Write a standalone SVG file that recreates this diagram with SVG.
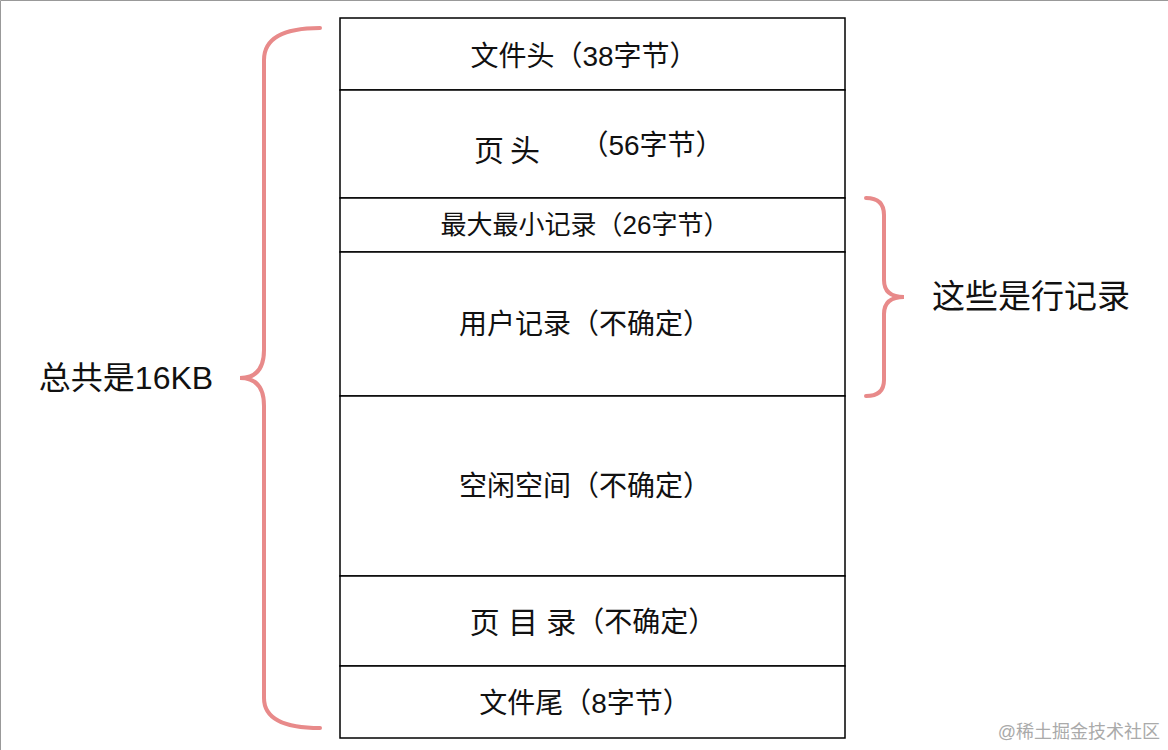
<svg xmlns="http://www.w3.org/2000/svg" width="1168" height="750" viewBox="0 0 1168 750">
<style>
.c{fill:#fff;stroke:#000;stroke-width:1.5}
.t{font-family:"Liberation Sans","Noto Sans CJK SC",sans-serif;font-size:28px;fill:#111;text-anchor:middle;dominant-baseline:central}
.b{fill:none;stroke:#e88a8a;stroke-width:4;stroke-linecap:round}
</style>
<rect x="0" y="0" width="1168" height="750" fill="#fff"/>
<path d="M0.5 750V0.5H1168" fill="none" stroke="#999"/>
<g id="n1"><rect class="c" x="340" y="18" width="505" height="72"/><text class="t" x="584" y="56">文件头（38字节）</text></g>
<g id="n2"><rect class="c" x="340" y="90" width="505" height="108"/><text class="t" x="510" y="150" style="font-size:30px;letter-spacing:6px">页头</text><text class="t" x="652" y="145">（56字节）</text></g>
<g id="n3"><rect class="c" x="340" y="198" width="505" height="54"/><text class="t" x="585" y="225" style="font-size:26px">最大最小记录（26字节）</text></g>
<g id="n4"><rect class="c" x="340" y="252" width="505" height="144"/><text class="t" x="585" y="324">用户记录（不确定）</text></g>
<g id="n5"><rect class="c" x="340" y="396" width="505" height="180"/><text class="t" x="585" y="486">空闲空间（不确定）</text></g>
<g id="n6"><rect class="c" x="340" y="576" width="505" height="90"/><text class="t" x="593" y="622" xml:space="preserve" style="font-size:30px">页 目 录<tspan style="font-size:28px">（不确定）</tspan></text></g>
<g id="n7"><rect class="c" x="340" y="666" width="505" height="72"/><text class="t" x="585" y="703">文件尾（8字节）</text></g>
<g id="connectors">
<path class="b" d="M320 28Q264 28 264 60V350Q264 378 240 378Q264 378 264 406V698Q264 728 320 728"/>
<path class="b" d="M866 198Q884 198 884 215V280Q884 297 904 297Q884 297 884 314V380Q884 396 866 396"/>
</g>
<text class="t" x="126" y="378" style="font-size:32px">总共是16KB</text>
<text class="t" x="1031" y="296" style="font-size:33px">这些是行记录</text>
<text x="1160" y="738" style="font-family:'Liberation Sans','Noto Sans CJK SC',sans-serif;font-size:18px;fill:#aaa;text-anchor:end">@稀土掘金技术社区</text>
</svg>
